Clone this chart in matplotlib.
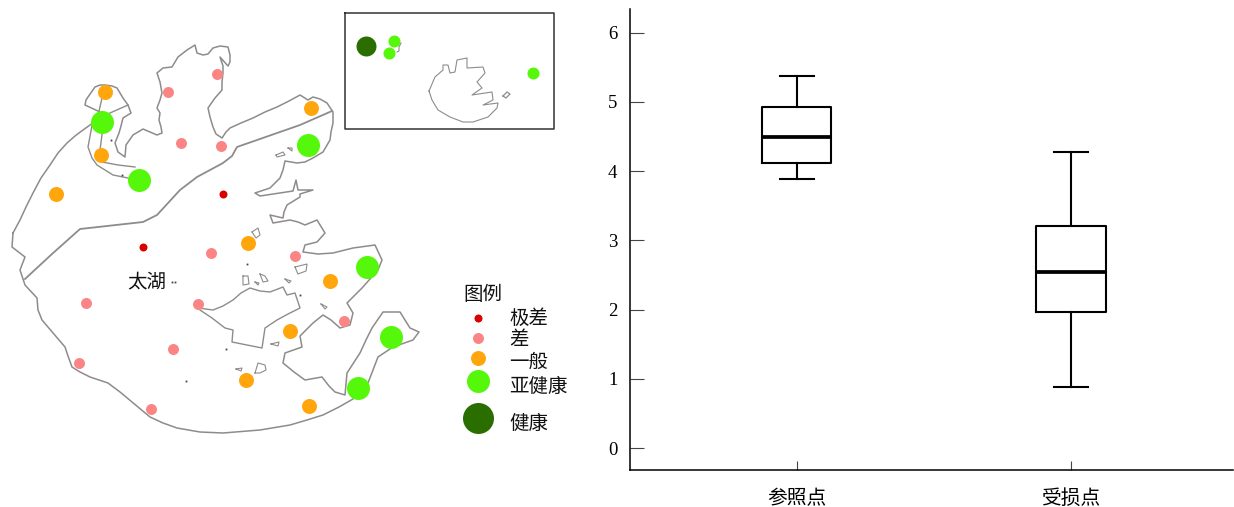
import matplotlib
matplotlib.use('Agg')
import matplotlib.pyplot as plt

plt.rcParams['font.family'] = ['Noto Sans CJK SC', 'DejaVu Sans']

# 太湖轮廓，数值按原图像素读取
lake_outline = [(13,233),(20,220),(26,207),(33,193),(41,178),(50,165),(58,153),(67,143),(75,136),(83,130),(97,120),
    (100,112),(85,105),(86,100),(88,97),(95,87),(100,85),(105,85),(112,86),(117,88),(123,98),(128,105),(131,113),
    (123,118),(121,126),(119,133),(115,143),(118,152),(125,157),(126,145),(133,135),(143,129),(150,132),(157,135),
    (162,133),(161,127),(159,120),(160,113),(157,108),(160,100),(162,93),(160,82),(157,73),(163,68),(172,67),
    (178,57),(187,50),(195,45),(197,53),(203,55),(208,54),(213,48),(220,46),(228,47),(230,55),(230,62),(228,66),
    (220,57),(223,66),(223,73),(222,82),(222,90),(215,98),(208,108),(210,117),(213,127),(216,134),(222,138),
    (226,132),(230,128),(241,123),(253,118),(265,112),(277,107),(289,101),(300,95),(308,100),(313,97),(320,99),
    (327,103),(333,112),(333,123),(331,132),(330,140),(323,152),(313,158),(305,162),(297,163),(285,161),(283,170),
    (280,178),(270,188),(255,193),(260,196),(280,193),(293,191),(296,180),(298,190),(313,190),(300,194),(300,197),
    (287,205),(284,212),(283,218),(270,215),(273,223),(290,220),(298,222),(305,225),(317,220),(325,233),(317,242),
    (305,245),(303,252),(318,254),(333,253),(353,248),(375,245),(382,260),(378,270),(362,288),(347,303),(353,313),
    (350,325),(340,328),(331,320),(323,315),(313,323),(300,336),(302,347),(285,353),(283,363),(294,372),(305,380),
    (322,377),(329,386),(335,392),(345,395),(347,373),(360,353),(366,340),(372,328),(383,312),(400,312),(405,320),
    (410,328),(419,332),(413,340),(393,347),(378,357),(368,383),(353,399),(339,407),(323,415),(307,420),(290,425),
    (260,430),(223,433),(200,432),(177,428),(163,423),(150,417),(132,402),(120,392),(108,383),(90,377),(80,372),
    (72,367),(68,356),(65,347),(53,333),(42,320),(38,310),(37,298),(25,285),(20,270),(25,257),(12,247),(13,233)]
divide_line = [(25,279),(52,254),(80,229),(143,222),(157,215),(180,190),(197,177),(223,163),(232,156),(237,147),(300,125),(332,111)]
bay_lines = [
    [(97,120),(110,113),(128,105)],
    [(102,98),(97,120)],
    [(103,127),(100,150)],
    [(93,120),(88,147),(92,158),(97,165),(113,175),(128,178)],
    [(102,162),(118,165),(135,167)],
]
peninsula = [(198,308),(213,310),(223,306),(233,300),(241,293),(250,288),(260,291),(270,292),(283,287),(287,295),
    (295,293),(300,308),(288,314),(277,320),(265,328),(262,348),(247,345),(232,342),(233,330),(225,328),(212,318),(200,310)]
islands = [
    [(243,276),(248,276),(249,284),(243,285),(243,276)],
    [(260,274),(265,276),(268,281),(263,282),(260,274)],
    [(255,282),(259,283),(258,285),(255,282)],
    [(285,279),(291,281),(289,283),(285,279)],
    [(321,304),(327,307),(325,309),(321,304)],
    [(271,344),(279,342),(278,346),(271,344)],
    [(255,373),(258,363),(265,365),(266,370),(260,373),(255,373)],
    [(236,369),(242,368),(241,371),(236,369)],
    [(295,267),(307,264),(306,271),(298,274),(295,267)],
    [(252,232),(258,228),(260,235),(256,238),(252,232)],
    [(276,155),(283,152),(285,155),(277,157),(276,155)],
    [(288,148),(292,148),(292,151),(288,148)],
]
specks = [(172,282),(175,282),(186,381),(247,264),(111,140),(122,175),(300,295),(226,349)]

# 左上小图
inset_outline = [(429,91),(432,84),(435,77),(443,70),(443,65),(448,65),(450,73),(455,72),(457,60),(467,58),(467,68),
    (483,67),(485,73),(477,82),(482,88),(472,95),(492,92),(493,100),(483,105),(498,103),(497,108),(488,117),
    (473,122),(463,122),(450,117),(438,110),(432,100),(429,91)]
inset_island = [(503,96),(507,92),(510,94),(506,98),(503,96)]
inset_islet = [(401,43),(399,47),(399,51),(397,52)]
inset_box = [(345,13),(554,13),(554,129),(345,129),(345,13)]

# 样点
very_poor = [(223,194),(143,247)]
poor = [(217,74),(168,92),(181,143),(221,146),(211,253),(295,256),(86,303),(198,304),(344,321),(173,349),(79,363),(151,409)]
fair = [(105,92),(101,155),(56,194),(311,108),(248,243),(330,281),(290,331),(246,380),(309,406)]
sub_healthy = [(102,122),(139,180),(308,145),(367,267),(391,337),(358,388)]
inset_sub_healthy = [(394,41),(389,53),(533,73)]
inset_healthy = [(366,46)]

# 图例
legend_labels = ['极差', '差', '一般', '亚健康', '健康']
legend_points = [(478,318),(478,338),(478,358),(478,381),(478,418)]
legend_text_y = [318,340,362,386,423]
colors = ['#d90000', '#fb8585', '#ffa60d', '#55f70a', '#2b6e00']
sizes = [8, 11, 15, 23, 31]

# 箱线图
box_names = ['参照点', '受损点']
box_whislo = [3.89, 0.88]
box_q1 = [4.11, 1.96]
box_med = [4.49, 2.54]
box_q3 = [4.92, 3.21]
box_whishi = [5.37, 4.28]
y_ticks = [0, 1, 2, 3, 4, 5, 6]

W, H = 1234, 507
fig = plt.figure(figsize=(W / 100, H / 100), dpi=100)

# 地图部分用整张图的像素坐标
ax = fig.add_axes([0, 0, 1, 1])
ax.set_xlim(0, W)
ax.set_ylim(H, 0)
ax.axis('off')

def draw_line(pts, color='#8f8b8b', lw=1.0):
    ax.plot([p[0] for p in pts], [p[1] for p in pts], color=color, lw=lw, solid_joinstyle='round')

def draw_points(pts, color, size):
    ax.plot([p[0] for p in pts], [p[1] for p in pts], 'o', color=color, mew=0, ms=size * 0.72)

draw_line(lake_outline, lw=1.1)
draw_line(divide_line, lw=1.3)
draw_line(peninsula)
for line in bay_lines:
    draw_line(line)
for line in islands:
    draw_line(line, lw=0.8)
draw_line(inset_outline, lw=0.8)
draw_line(inset_island, lw=0.9)
draw_line(inset_islet, lw=0.8)
draw_line(inset_box, color='#333333', lw=1.1)
ax.plot([p[0] for p in specks], [p[1] for p in specks], 's', color='#444444', mew=0, ms=1.3)

draw_points(very_poor, colors[0], sizes[0])
draw_points(poor, colors[1], sizes[1])
draw_points(fair, colors[2], sizes[2])
draw_points(sub_healthy, colors[3], sizes[3])
draw_points(inset_sub_healthy, colors[3], 12)
draw_points(inset_healthy, colors[4], 20)
for p, c, s, label, ty in zip(legend_points, colors, sizes, legend_labels, legend_text_y):
    draw_points([p], c, s)
    ax.text(509, ty, label, fontsize=14, va='center', ha='left', color='#111111')
ax.text(463, 294, '图例', fontsize=14, va='center', ha='left', color='#111111')
ax.text(127, 282, '太湖', fontsize=14, va='center', ha='left', color='#111111')

# 右边的箱线图
ax2 = fig.add_axes([630 / W, 1 - 470 / H, 603 / W, 461 / H])
ax2.patch.set_alpha(0)
stats = []
for i in range(len(box_names)):
    stats.append({'label': box_names[i], 'whislo': box_whislo[i], 'q1': box_q1[i], 'med': box_med[i],
                  'q3': box_q3[i], 'whishi': box_whishi[i], 'fliers': []})
ax2.bxp(stats, positions=[1, 2], widths=0.252, capwidths=0.124, showfliers=False,
        boxprops={'color': 'black', 'lw': 1.5},
        whiskerprops={'color': 'black', 'lw': 1.5},
        capprops={'color': 'black', 'lw': 1.5},
        medianprops={'color': 'black', 'lw': 2.7, 'solid_capstyle': 'butt'})
ax2.set_xlim(0.391, 2.591)
ax2.set_ylim(-0.317, 6.34)
ax2.set_yticks(y_ticks)
ax2.set_yticklabels(y_ticks, family='Liberation Serif', fontsize=13.5)
ax2.set_xticks([1, 2])
ax2.set_xticklabels(box_names, fontsize=14.2)
ax2.tick_params(axis='y', direction='in', length=10, width=0.8, color='#444444', pad=9)
ax2.tick_params(axis='x', direction='in', length=6.5, width=0.8, color='#444444', pad=13)
ax2.spines['top'].set_visible(False)
ax2.spines['right'].set_visible(False)
ax2.spines['left'].set_linewidth(1.1)
ax2.spines['bottom'].set_linewidth(1.1)

fig.savefig('out.png', dpi=100)
